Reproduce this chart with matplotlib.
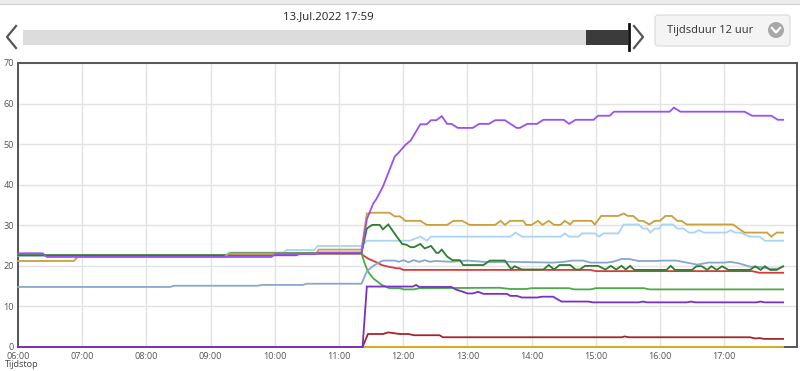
import matplotlib
matplotlib.use('Agg')
import matplotlib.pyplot as plt
import pandas as pd
from matplotlib.patches import Rectangle, FancyBboxPatch, Circle

plt.rcParams['font.family'] = ['Open Sans', 'DejaVu Sans']

DAY = "2022-07-13 "

# ---------------- data ----------------
purple_t = ["06:00", "06:23", "06:27", "09:57", "10:00", "10:38", "10:41", "11:21", "11:26", "11:32",
            "11:35", "11:41", "11:52", "11:56", "12:02", "12:07", "12:16", "12:22", "12:26", "12:31",
            "12:36", "12:41", "12:45", "12:51", "13:05", "13:11", "13:20", "13:26", "13:35", "13:46",
            "13:49", "13:56", "14:05", "14:11", "14:30", "14:35", "14:41", "14:58", "15:02", "15:13",
            "15:17", "16:09", "16:13", "16:19", "17:19", "17:26", "17:44", "17:50", "17:55"]
purple_v = [23.1, 23.1, 22.2, 22.2, 22.9, 22.9, 23.3, 23.3, 31.5, 35.4,
            36.5, 39.5, 46.9, 48.0, 49.8, 50.9, 54.9, 54.9, 55.9, 55.9,
            56.9, 55.0, 55.0, 54.0, 54.0, 55.0, 55.0, 55.9, 55.9, 54.0,
            54.0, 55.0, 55.0, 56.0, 56.0, 55.0, 56.0, 56.0, 57.0, 57.0,
            58.0, 58.0, 59.0, 58.0, 58.0, 57.0, 57.0, 56.0, 56.0]

gold_t = ["06:00", "06:52", "06:56", "09:13", "09:17", "10:38", "10:41", "11:21", "11:26", "11:31",
          "11:47", "11:52", "11:57", "12:02", "12:16", "12:22", "12:41", "12:47", "12:55", "13:02",
          "13:26", "13:31", "13:35", "13:40", "13:52", "13:55", "14:00", "14:06", "14:10", "14:16",
          "14:21", "14:27", "14:31", "14:36", "14:39", "14:56", "14:59", "15:05", "15:21", "15:26",
          "15:30", "15:35", "15:40", "15:44", "15:50", "15:55", "16:00", "16:05", "16:11", "16:16",
          "16:20", "16:25", "17:08", "17:19", "17:40", "17:44", "17:49", "17:55"]
gold_v = [21.2, 21.2, 22.2, 22.2, 23.0, 23.0, 24.0, 24.0, 32.9, 33.1,
          33.1, 32.2, 32.2, 31.1, 31.1, 30.1, 30.1, 31.1, 31.1, 30.1,
          30.1, 31.1, 30.1, 31.1, 31.1, 30.1, 30.1, 31.1, 30.1, 31.1,
          30.1, 30.1, 31.1, 30.2, 31.1, 31.1, 30.2, 32.3, 32.3, 32.9,
          32.3, 32.3, 31.1, 31.1, 30.2, 31.1, 31.1, 32.3, 32.3, 31.1,
          31.1, 30.2, 30.2, 28.2, 28.2, 27.2, 28.2, 28.2]

lightblue_t = ["06:00", "09:14", "09:17", "10:08", "10:11", "10:37", "10:40", "11:21", "11:26", "12:06",
               "12:16", "12:22", "12:26", "13:40", "13:45", "13:51", "14:27", "14:31", "14:35", "14:44",
               "14:47", "14:59", "15:03", "15:07", "15:21", "15:26", "15:40", "15:44", "15:48", "15:51",
               "15:55", "15:59", "16:02", "16:12", "16:16", "16:22", "16:27", "16:32", "16:36", "16:41",
               "17:02", "17:06", "17:10", "17:15", "17:24", "17:33", "17:38", "17:55"]
lightblue_v = [22.5, 22.5, 23.3, 23.3, 23.9, 23.9, 24.9, 24.9, 26.2, 26.2,
               27.2, 26.2, 27.2, 27.2, 28.2, 27.2, 27.2, 28.0, 27.2, 27.2,
               28.0, 28.0, 27.2, 28.0, 28.0, 30.2, 30.2, 29.2, 29.2, 28.2,
               29.2, 29.2, 30.2, 30.2, 29.2, 29.2, 28.2, 28.2, 28.8, 28.2,
               28.2, 28.8, 28.2, 28.2, 27.2, 27.2, 26.2, 26.2]

darkgreen_t = ["06:00", "09:15", "09:19", "11:21", "11:26", "11:31", "11:38", "11:41", "11:46", "11:54",
               "11:59", "12:03", "12:07", "12:10", "12:16", "12:20", "12:26", "12:31", "12:33", "12:36",
               "12:41", "12:46", "12:53", "12:56", "13:15", "13:21", "13:35", "13:41", "13:44", "13:51",
               "14:11", "14:16", "14:21", "14:26", "14:36", "14:41", "14:45", "14:50", "15:02", "15:09",
               "15:14", "15:19", "15:24", "15:28", "15:32", "15:36", "16:06", "16:10", "16:14", "16:30",
               "16:34", "16:39", "16:44", "16:48", "16:53", "16:58", "17:04", "17:24", "17:29", "17:34",
               "17:38", "17:43", "17:49", "17:55"]
darkgreen_v = [22.6, 22.6, 23.1, 23.1, 29.2, 30.1, 30.1, 29.0, 30.2, 27.2,
               25.4, 25.2, 24.6, 24.6, 25.4, 24.3, 24.9, 23.2, 23.2, 24.0,
               22.3, 21.4, 21.4, 20.2, 20.2, 21.3, 21.3, 19.2, 19.9, 19.1,
               19.1, 20.2, 19.1, 20.2, 20.2, 19.1, 19.1, 20.0, 20.0, 19.1,
               20.0, 19.1, 20.0, 19.1, 20.0, 19.0, 19.0, 20.0, 19.0, 19.0,
               19.9, 19.9, 19.0, 19.9, 19.0, 19.9, 19.0, 19.0, 19.9, 19.0,
               19.9, 19.0, 19.0, 19.9]

steel_t = ["06:00", "08:22", "08:26", "09:44", "09:48", "10:26", "10:30", "11:21", "11:26", "11:31",
           "11:37", "11:41", "11:52", "11:56", "12:00", "12:05", "12:10", "12:15", "12:20", "12:25",
           "12:30", "12:45", "13:00", "13:20", "13:40", "14:00", "14:20", "14:30", "14:38", "14:48",
           "14:55", "15:10", "15:16", "15:24", "15:31", "15:40", "15:55", "16:05", "16:15", "16:25",
           "16:35", "16:45", "17:00", "17:06", "17:14", "17:24", "17:35", "17:42", "17:50", "17:55"]
steel_v = [14.8, 14.8, 15.1, 15.1, 15.3, 15.3, 15.6, 15.6, 18.6, 19.8,
           20.8, 21.3, 21.3, 21.0, 21.4, 20.9, 21.4, 21.0, 21.4, 21.0,
           21.2, 21.0, 21.3, 20.9, 21.0, 20.9, 20.8, 21.0, 21.3, 21.3,
           20.8, 20.8, 21.0, 21.7, 21.7, 21.2, 21.2, 21.3, 21.3, 20.8,
           20.3, 20.8, 20.8, 21.0, 20.6, 19.8, 19.7, 19.3, 19.3, 19.8]

red_t = ["06:00", "10:20", "10:24", "11:21", "11:22", "11:27", "11:34", "11:40", "11:46", "11:54",
         "11:57", "12:00", "14:55", "15:00", "17:26", "17:33", "17:55"]
red_v = [22.6, 22.6, 23.0, 23.0, 22.7, 21.8, 21.0, 20.2, 19.8, 19.4,
         19.4, 19.0, 19.0, 18.7, 18.7, 18.3, 18.3]

green_t = ["06:00", "09:15", "09:19", "11:21", "11:24", "11:27", "11:32", "11:40", "11:47", "11:57",
           "12:00", "12:10", "12:15", "13:30", "13:40", "13:55", "14:00", "14:35", "14:40", "14:55",
           "15:00", "15:45", "15:50", "17:55"]
green_v = [22.6, 22.6, 23.1, 23.1, 20.6, 18.6, 16.9, 15.3, 14.5, 14.5,
           14.2, 14.2, 14.5, 14.6, 14.3, 14.3, 14.5, 14.5, 14.2, 14.2,
           14.5, 14.5, 14.2, 14.2]

darkpurple_t = ["06:00", "11:22", "11:26", "12:09", "12:12", "12:15", "12:45", "12:49", "12:56", "13:00",
                "13:05", "13:10", "13:15", "13:37", "13:40", "13:46", "13:51", "14:05", "14:10", "14:20",
                "14:28", "14:53", "14:57", "15:40", "15:44", "15:48", "16:25", "16:29", "16:33", "17:30",
                "17:34", "17:38", "17:55"]
darkpurple_v = [0.0, 0.0, 14.9, 14.9, 15.3, 14.8, 14.8, 14.2, 13.6, 13.2,
                13.2, 13.6, 13.1, 13.1, 12.6, 12.6, 12.2, 12.2, 12.4, 12.4,
                11.2, 11.2, 11.0, 11.0, 11.2, 11.0, 11.0, 11.2, 11.0, 11.0,
                11.2, 11.0, 11.0]

darkred_t = ["06:00", "11:22", "11:27", "11:41", "11:46", "11:57", "12:05", "12:10", "12:34", "12:37",
             "15:24", "15:27", "15:31", "17:24", "17:29", "17:33", "17:37", "17:55"]
darkred_v = [0.0, 0.0, 3.2, 3.2, 3.6, 3.2, 3.2, 2.9, 2.9, 2.4,
             2.4, 2.6, 2.4, 2.4, 2.1, 2.2, 2.0, 2.0]

yellow_t = ["06:00", "17:55"]
yellow_v = [0.0, 0.0]

y_ticks = [0, 10, 20, 30, 40, 50, 60, 70]
x_tick_labels = ["06:00", "07:00", "08:00", "09:00", "10:00", "11:00", "12:00",
                 "13:00", "14:00", "15:00", "16:00", "17:00"]

series = [
    (yellow_t, yellow_v, "#e6b422"),
    (darkred_t, darkred_v, "#a3262a"),
    (red_t, red_v, "#d83a3a"),
    (green_t, green_v, "#4caa48"),
    (steel_t, steel_v, "#86a8cb"),
    (lightblue_t, lightblue_v, "#a8d4f6"),
    (darkgreen_t, darkgreen_v, "#2f7d2f"),
    (gold_t, gold_v, "#c9a13c"),
    (darkpurple_t, darkpurple_v, "#7a30c8"),
    (purple_t, purple_v, "#9b50f2"),
]

def to_dt(ts):
    return pd.to_datetime([DAY + t for t in ts])

# ---------------- figure ----------------
fig = plt.figure(figsize=(8.0, 3.71), dpi=100)
ax = fig.add_axes([18 / 800, 24 / 371, 779 / 800, 284 / 371])

for i, (t, v, c) in enumerate(series):
    ax.plot(to_dt(t), v, color=c, lw=1.3, zorder=2 + i, solid_joinstyle='miter',
            clip_on=False)

ax.set_ylim(0, 70)
ax.set_yticks(y_ticks)
ax.set_xlim(pd.Timestamp(DAY + "06:00"), pd.Timestamp(DAY + "18:08"))
xt = to_dt(x_tick_labels)
ax.set_xticks(xt)
ax.set_xticklabels(x_tick_labels)
ax.grid(True, color="#e3e3e3", lw=1.0, zorder=0)
ax.set_axisbelow(True)
ax.tick_params(axis='both', length=0, labelsize=6.6, colors="#555555")
ax.tick_params(axis='y', pad=3)
ax.tick_params(axis='x', pad=3.5)
for s in ax.spines.values():
    s.set_color("#555555")
    s.set_linewidth(1.4)
    s.set_zorder(1)

# ---------------- overlay UI ----------------
ov = fig.add_axes([0, 0, 1, 1], zorder=-1)
ov.set_xlim(0, 800)
ov.set_ylim(371, 0)
ov.axis('off')
ov.add_patch(Rectangle((0, 0), 800, 4, facecolor="#ebebeb", edgecolor="none"))
ov.plot([0, 800], [4, 4], color="#d2d2d2", lw=0.8)
ov.text(328, 17, "13.Jul.2022 17:59", ha='center', va='center', fontsize=8.2, color="#222222")
ov.add_patch(Rectangle((23, 30), 605, 15, facecolor="#dcdcdc", edgecolor="none"))
ov.add_patch(Rectangle((586, 30), 42, 15, facecolor="#3b3b3b", edgecolor="none"))
ov.plot([629, 629], [24, 50], color="#111111", lw=2.0)
ov.plot([16, 7, 16], [26, 37, 48], color="#555555", lw=1.6)
ov.plot([634, 643, 634], [26, 37, 48], color="#555555", lw=1.6)
ov.add_patch(FancyBboxPatch((655, 15), 135, 31, boxstyle="round,pad=0,rounding_size=3",
                            facecolor="#f4f4f4", edgecolor="#dadada", lw=0.8))
ov.text(667, 30.5, "Tijdsduur 12 uur", ha='left', va='center', fontsize=8.0, color="#333333")
ov.add_patch(Circle((776, 30), 8, facecolor="#a8a8a8", edgecolor="none"))
ov.plot([772, 776, 780], [28, 32.5, 28], color="white", lw=1.6)
ov.text(5, 360, "Tijdstop", ha='left', va='top', fontsize=6.6, color="#444444")

fig.savefig("out.png", dpi=100)
